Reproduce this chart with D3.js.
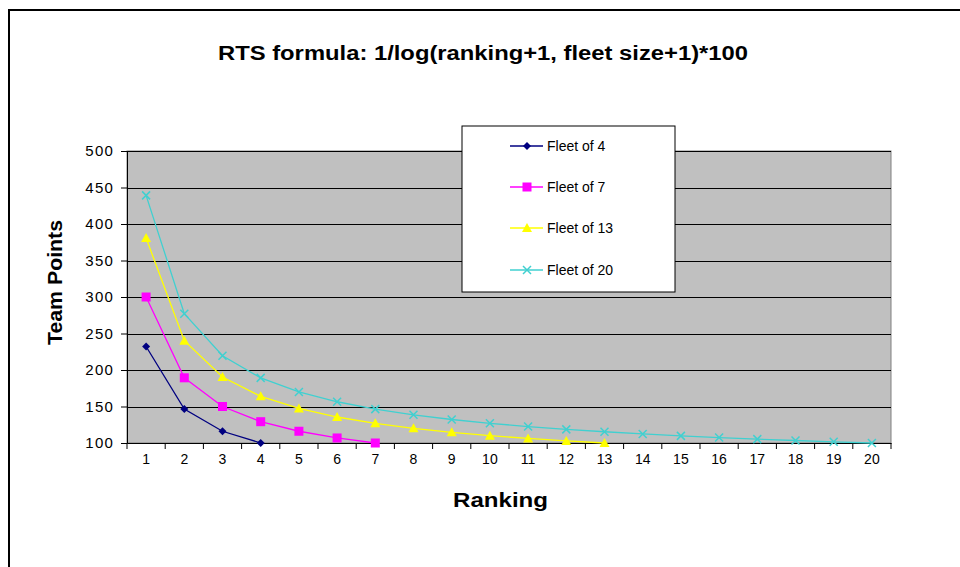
<!DOCTYPE html>
<html><head><meta charset="utf-8">
<script src="https://cdn.jsdelivr.net/npm/d3@7"></script>
<style>body{margin:0;background:#fff;}svg{display:block;font-family:"Liberation Sans",Arial,sans-serif;}</style>
</head><body><svg id="c" width="960" height="567"></svg>
<script>
const rankings = d3.range(1, 21);
const yTicks = [100,150,200,250,300,350,400,450,500];
const seriesNames = ["Fleet of 4","Fleet of 7","Fleet of 13","Fleet of 20"];
const fleet4 = [232.2,146.5,116.1,100];
const fleet7 = [300,189.3,150,129.2,116.1,106.9,100];
const fleet13 = [380.7,240.2,190.4,164.0,147.3,135.6,126.9,120.1,114.6,110.1,106.2,102.9,100];
const fleet20 = [439.2,277.1,219.6,189.2,169.9,156.5,146.4,138.6,132.2,127.0,122.5,118.7,115.4,112.4,109.8,107.5,105.3,103.4,101.6,100];
const seriesData = [fleet4, fleet7, fleet13, fleet20];
const colors = ["#000080","#FF00FF","#FFFF00","#40D0D0"];
const markers = ["diamond","square","triangle","x"];

const svg = d3.select("#c");
svg.append("path").attr("d","M9,567 V10 H960").attr("fill","none").attr("stroke","#000").attr("stroke-width",2);

const L=127, R=891, T=151, B=443;
const x = d3.scaleBand().domain(rankings).range([L,R]);
const y = d3.scaleLinear().domain([100,500]).range([B,T]);

svg.append("rect").attr("x",L).attr("y",T).attr("width",R-L).attr("height",B-T).attr("fill","#C0C0C0").attr("stroke","#808080");

svg.append("g").selectAll("line").data(yTicks.slice(1)).join("line")
  .attr("x1",L).attr("x2",R).attr("y1",d=>Math.round(y(d))+0.5).attr("y2",d=>Math.round(y(d))+0.5)
  .attr("stroke","#000").attr("stroke-width",1);

const yAxis = svg.append("g").attr("transform",`translate(${L},0)`)
  .call(d3.axisLeft(y).tickValues(yTicks).tickSize(6).tickPadding(7));
yAxis.select(".domain").attr("stroke","#000");
yAxis.selectAll("text").attr("font-size",15).attr("letter-spacing","1.2px").attr("fill","#000").attr("font-family","Liberation Sans, Arial, sans-serif");

const xAxis = svg.append("g").attr("transform",`translate(0,${B})`)
  .call(d3.axisBottom(x).tickSize(0).tickPadding(11));
xAxis.select(".domain").attr("stroke","#000");
xAxis.selectAll("text").attr("font-size",14).attr("fill","#000").attr("font-family","Liberation Sans, Arial, sans-serif");
const bounds = rankings.map(r=>x(r)).concat([R]);
svg.append("g").selectAll("line").data(bounds).join("line")
  .attr("x1",d=>d).attr("x2",d=>d).attr("y1",B).attr("y2",B+6).attr("stroke","#000");

function marker(g, type, color){
  if(type==="diamond") g.append("path").attr("d","M0,-4L4,0L0,4L-4,0Z").attr("fill",color);
  else if(type==="square") g.append("rect").attr("x",-4.5).attr("y",-4.5).attr("width",9).attr("height",9).attr("fill",color);
  else if(type==="triangle") g.append("path").attr("d","M0,-5L5,4L-5,4Z").attr("fill",color);
  else g.append("path").attr("d","M-4,-4L4,4M4,-4L-4,4").attr("stroke",color).attr("stroke-width",1.5);
}

const line = d3.line().x((d,i)=>x(i+1)+x.bandwidth()/2).y(d=>y(d));
seriesData.forEach((data,si)=>{
  svg.append("path").datum(data).attr("d",line).attr("fill","none").attr("stroke",colors[si]).attr("stroke-width",1.3);
  data.forEach((v,i)=>{
    const g = svg.append("g").attr("transform",`translate(${x(i+1)+x.bandwidth()/2},${y(v)})`);
    marker(g, markers[si], colors[si]);
  });
});

svg.append("rect").attr("x",462).attr("y",126).attr("width",213).attr("height",166).attr("fill","#fff").attr("stroke","#000");
const ly = [146,187,228,270];
seriesNames.forEach((n,i)=>{
  svg.append("line").attr("x1",510).attr("x2",543).attr("y1",ly[i]).attr("y2",ly[i]).attr("stroke",colors[i]).attr("stroke-width",1.3);
  const g = svg.append("g").attr("transform",`translate(527,${ly[i]})`);
  marker(g, markers[i], colors[i]);
  svg.append("text").attr("x",547).attr("y",ly[i]).attr("dy","0.35em").attr("font-size",14).attr("fill","#000").text(n);
});

svg.append("text").attr("x",218).attr("y",60).attr("font-size",20).attr("font-weight","bold")
  .attr("textLength",530).attr("lengthAdjust","spacingAndGlyphs").text("RTS formula: 1/log(ranking+1, fleet size+1)*100");
svg.append("text").attr("transform","translate(62,345) rotate(-90)").attr("font-size",20).attr("font-weight","bold")
  .attr("textLength",125).attr("lengthAdjust","spacingAndGlyphs").text("Team Points");
svg.append("text").attr("x",453).attr("y",507).attr("font-size",20).attr("font-weight","bold")
  .attr("textLength",95).attr("lengthAdjust","spacingAndGlyphs").text("Ranking");
</script></body></html>
